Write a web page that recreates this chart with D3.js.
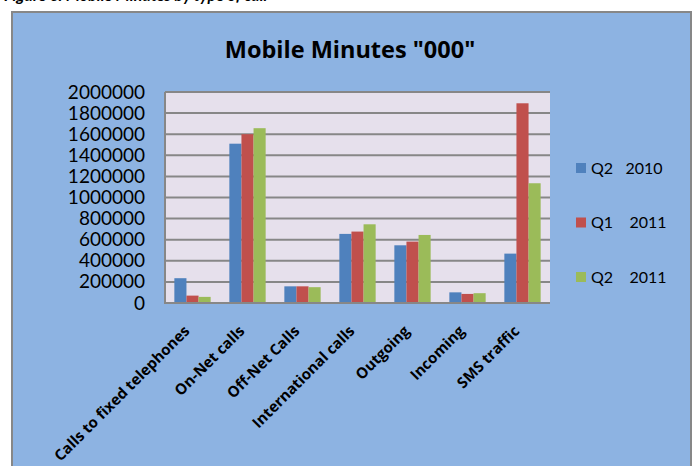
<!DOCTYPE html>
<html>
<head>
<meta charset="utf-8">
<script src="https://cdn.jsdelivr.net/npm/d3@7"></script>
<style>
  body { margin: 0; background: #fff; }
  svg { display: block; }
  text { font-family: Lato, "Open Sans", sans-serif; }
</style>
</head>
<body>
<svg width="699" height="466"></svg>
<script>
var categories = ["Calls to fixed telephones", "On-Net calls", "Off-Net Calls",
    "International calls", "Outgoing", "Incoming", "SMS traffic"];
var seriesNames = ["Q2   2010", "Q1    2011", "Q2    2011"];
var q2_2010 = [235000, 1510000, 158000, 655000, 547000, 101000, 468000];
var q1_2011 = [70000, 1600000, 158000, 677000, 582000, 86000, 1893000];
var q2_2011 = [58000, 1657000, 150000, 746000, 645000, 93000, 1135000];
var yTicks = [0, 200000, 400000, 600000, 800000, 1000000, 1200000, 1400000, 1600000, 1800000, 2000000];
var colors = ["#4F81BD", "#C0504D", "#9BBB59"];

var svg = d3.select("svg");

// caption above the chart, cut off by the page edge
svg.append("text")
    .attr("x", 4).attr("y", 1)
    .style("font-family", "Lato, sans-serif")
    .style("font-weight", "bold").style("font-style", "italic")
    .style("font-size", "16px")
    .text("Figure 6: Mobile Minutes by type of call");

// chart area
svg.append("rect")
    .attr("x", 12).attr("y", 12)
    .attr("width", 679).attr("height", 470)
    .attr("fill", "#8DB3E2")
    .attr("stroke", "#878787").attr("stroke-width", 2);

svg.append("text")
    .attr("x", 350).attr("y", 58)
    .attr("text-anchor", "middle")
    .style("font-family", "'Open Sans', sans-serif")
    .style("font-weight", "bold").style("font-size", "23.5px")
    .text('Mobile Minutes "000"');

var margin = { left: 165, top: 92, right: 149, bottom: 163 },
    width = 699 - margin.left - margin.right,
    height = 466 - margin.top - margin.bottom;

var g = svg.append("g")
    .attr("transform", "translate(" + margin.left + "," + margin.top + ")");

var x = d3.scaleBand().domain(categories).range([0, width]).paddingInner(0.34).paddingOuter(0.17);
var xs = d3.scaleBand().domain([0, 1, 2]).range([0, x.bandwidth()]);
var y = d3.scaleLinear().domain([0, 2000000]).range([height, 0]);

g.append("rect")
    .attr("width", width).attr("height", height)
    .attr("fill", "#E6E0EC");

g.append("g")
    .selectAll("line").data(yTicks).enter().append("line")
    .attr("x1", 0).attr("x2", width)
    .attr("y1", function(d) { return y(d); })
    .attr("y2", function(d) { return y(d); })
    .attr("stroke", "#878787").attr("stroke-width", 2);

var series = [q2_2010, q1_2011, q2_2011];
series.forEach(function(vals, si) {
    g.append("g")
        .selectAll("rect").data(vals).enter().append("rect")
        .attr("x", function(d, i) { return x(categories[i]) + xs(si); })
        .attr("y", function(d) { return y(d); })
        .attr("width", xs.bandwidth())
        .attr("height", function(d) { return height - y(d); })
        .attr("fill", colors[si]);
});

// plot border
g.append("path")
    .attr("d", "M0,0V" + height + "H" + width)
    .attr("fill", "none")
    .attr("stroke", "#878787").attr("stroke-width", 2);

var yAxis = g.append("g")
    .call(d3.axisLeft(y).tickValues(yTicks).tickSize(0).tickPadding(20).tickFormat(d3.format("d")));
yAxis.select(".domain").remove();
yAxis.selectAll("text")
    .style("font-family", "Lato, sans-serif")
    .style("font-size", "19px")
    .attr("fill", "#000");

g.append("g")
    .selectAll("text").data(categories).enter().append("text")
    .attr("transform", function(d) {
        return "translate(" + (x(d) + x.bandwidth() / 2 - 2) + "," + (height + 29) + ") rotate(-45)";
    })
    .attr("text-anchor", "end")
    .style("font-family", "'Open Sans', sans-serif")
    .style("font-weight", "bold").style("font-size", "15px")
    .text(function(d) { return d; });

var legend = svg.append("g")
    .selectAll("g").data(seriesNames).enter().append("g")
    .attr("transform", function(d, i) { return "translate(576," + (163 + i * 54.5) + ")"; });
legend.append("rect")
    .attr("width", 10).attr("height", 10)
    .attr("fill", function(d, i) { return colors[i]; });
legend.append("text")
    .attr("x", 15).attr("y", 10.5)
    .style("font-size", "16px")
    .attr("xml:space", "preserve")
    .text(function(d) { return d; });
</script>
</body>
</html>
